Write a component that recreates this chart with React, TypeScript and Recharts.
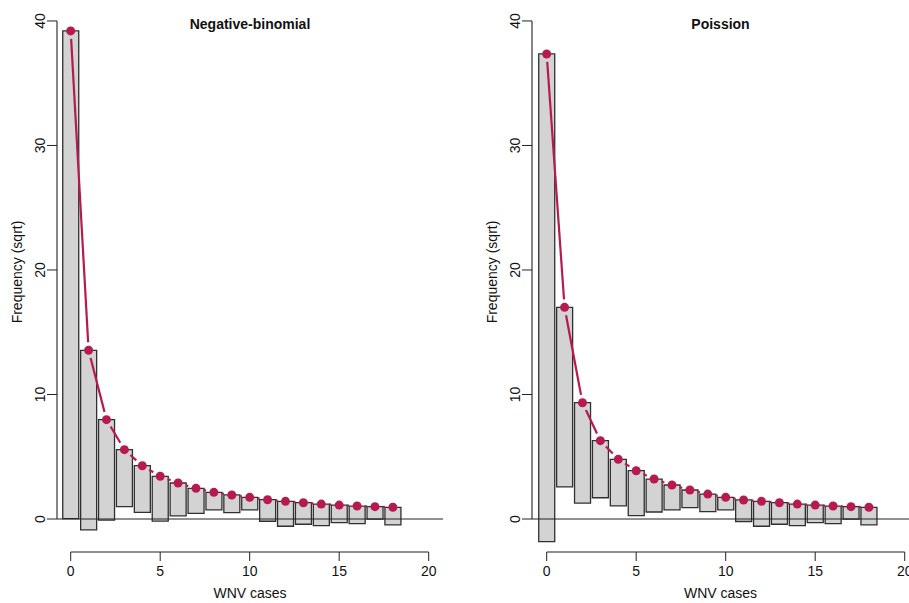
import { ComposedChart, Bar, Line, XAxis, YAxis, ReferenceLine } from 'recharts';

// counts of WNV cases 0..18
const cases = [0, 1, 2, 3, 4, 5, 6, 7, 8, 9, 10, 11, 12, 13, 14, 15, 16, 17, 18];
const observedCounts = [1534, 208, 65, 21, 14, 13, 7, 4, 2, 2, 1, 3, 4, 3, 3, 2, 2, 1, 2];

// fitted frequencies, already on the sqrt scale
const expectedNegBin = [39.2, 13.55, 7.98, 5.57, 4.28, 3.43, 2.89, 2.46, 2.14, 1.93, 1.74, 1.55, 1.42, 1.31, 1.2, 1.12, 1.04, 0.99, 0.94];
const expectedPoisson = [37.35, 17.0, 9.34, 6.29, 4.79, 3.88, 3.21, 2.73, 2.33, 2.0, 1.74, 1.53, 1.42, 1.31, 1.2, 1.12, 1.04, 0.99, 0.94];

const xTicks = [0, 5, 10, 15, 20];
const yTicks = [0, 10, 20, 30, 40];

const RED = '#B61A51';
const BORDER = '#303030';
const AXIS = '#222222';
const FONT = '"Liberation Sans", Arial, Helvetica, sans-serif';

const HEIGHT = 603;
const TOP = 10;
const X_AXIS_H = 51;
const Y_AXIS_W = 57;
const Y_DOMAIN: [number, number] = [-2.65, 40.88];
const DOT_R = 4.5;
const GAP = 8;

function buildRows(expected: number[]) {
  return cases.map((x, i) => {
    const obs = Math.sqrt(observedCounts[i]);
    return { x, expected: expected[i], hang: [expected[i] - obs, expected[i]] };
  });
}

// points joined by segments that stop short of each point (R's type = "b")
function GappedDot(props: any) {
  const { cx, cy, index, points } = props;
  const next = points && points[index + 1];
  let seg = null;
  if (next) {
    const dx = next.x - cx;
    const dy = next.y - cy;
    const len = Math.hypot(dx, dy);
    if (len > 2 * GAP) {
      const ux = dx / len;
      const uy = dy / len;
      seg = (
        <line
          x1={cx + ux * GAP}
          y1={cy + uy * GAP}
          x2={next.x - ux * GAP}
          y2={next.y - uy * GAP}
          stroke={RED}
          strokeWidth={2.2}
        />
      );
    }
  }
  return (
    <g key={`pt-${index}`}>
      {seg}
      <circle cx={cx} cy={cy} r={DOT_R} fill={RED} />
    </g>
  );
}

function XTick(props: any) {
  const { x, y, payload } = props;
  return (
    <text x={x} y={y + 10} textAnchor="middle" fontSize={14} fontFamily={FONT} fill="#111">
      {payload.value}
    </text>
  );
}

function YTick(props: any) {
  const { x, y, payload } = props;
  return (
    <text x={x} y={y} textAnchor="middle" fontSize={14} fontFamily={FONT} fill="#111" transform={`rotate(-90 ${x} ${y})`}>
      {payload.value}
    </text>
  );
}

interface PanelProps {
  title: string;
  expected: number[];
  left: number;
  width: number;
  marginRight: number;
  xDomain: [number, number];
}

function Panel({ title, expected, left, width, marginRight, xDomain }: PanelProps) {
  const rows = buildRows(expected);
  const midX = (Y_AXIS_W + width - marginRight) / 2;
  return (
    <div style={{ position: 'absolute', left, top: 0, width, height: HEIGHT }}>
      <ComposedChart width={width} height={HEIGHT} data={rows} margin={{ top: TOP, right: marginRight, bottom: 0, left: 0 }}>
        <XAxis
          dataKey="x"
          type="number"
          domain={xDomain}
          ticks={xTicks}
          allowDataOverflow
          interval={0}
          height={X_AXIS_H}
          axisLine={false}
          tickSize={9}
          tickMargin={5}
          tickLine={{ stroke: AXIS }}
          tick={<XTick />}
        />
        <YAxis
          type="number"
          domain={Y_DOMAIN}
          ticks={yTicks}
          allowDataOverflow
          interval={0}
          width={Y_AXIS_W}
          axisLine={false}
          tickSize={10}
          tickMargin={2}
          tickLine={{ stroke: AXIS }}
          tick={<YTick />}
        />
        <Bar dataKey="hang" barSize={16} fill="#d3d3d3" stroke={BORDER} strokeWidth={1.3} isAnimationActive={false} />
        <ReferenceLine y={0} stroke={AXIS} strokeWidth={1.1} />
        <ReferenceLine
          segment={[{ x: 0, y: Y_DOMAIN[0] }, { x: 20, y: Y_DOMAIN[0] }]}
          stroke={AXIS}
          strokeWidth={1.1}
          ifOverflow="visible"
        />
        <ReferenceLine
          segment={[{ x: xDomain[0], y: 0 }, { x: xDomain[0], y: 40 }]}
          stroke={AXIS}
          strokeWidth={1.1}
          ifOverflow="visible"
        />
        <Line dataKey="expected" stroke="none" dot={GappedDot} activeDot={false} isAnimationActive={false} />
      </ComposedChart>
      <svg width={width} height={HEIGHT} style={{ position: 'absolute', left: 0, top: 0, pointerEvents: 'none' }}>
        <text x={midX} y={29} textAnchor="middle" fontSize={14} fontWeight="bold" fontFamily={FONT} fill="#111">
          {title}
        </text>
        <text x={midX} y={598} textAnchor="middle" fontSize={14} fontFamily={FONT} fill="#111">
          WNV cases
        </text>
        <text x={22} y={272} textAnchor="middle" fontSize={14} fontFamily={FONT} fill="#111" transform="rotate(-90 22 272)">
          Frequency (sqrt)
        </text>
      </svg>
    </div>
  );
}

export default function App() {
  return (
    <div style={{ position: 'absolute', left: 0, top: 0, width: 909, height: HEIGHT, overflow: 'hidden', background: '#fff' }}>
      <Panel title="Negative-binomial" expected={expectedNegBin} left={0} width={455} marginRight={12} xDomain={[-0.765, 20.8]} />
      <Panel title="Poission" expected={expectedPoisson} left={475} width={434} marginRight={0} xDomain={[-0.82, 20.24]} />
    </div>
  );
}
